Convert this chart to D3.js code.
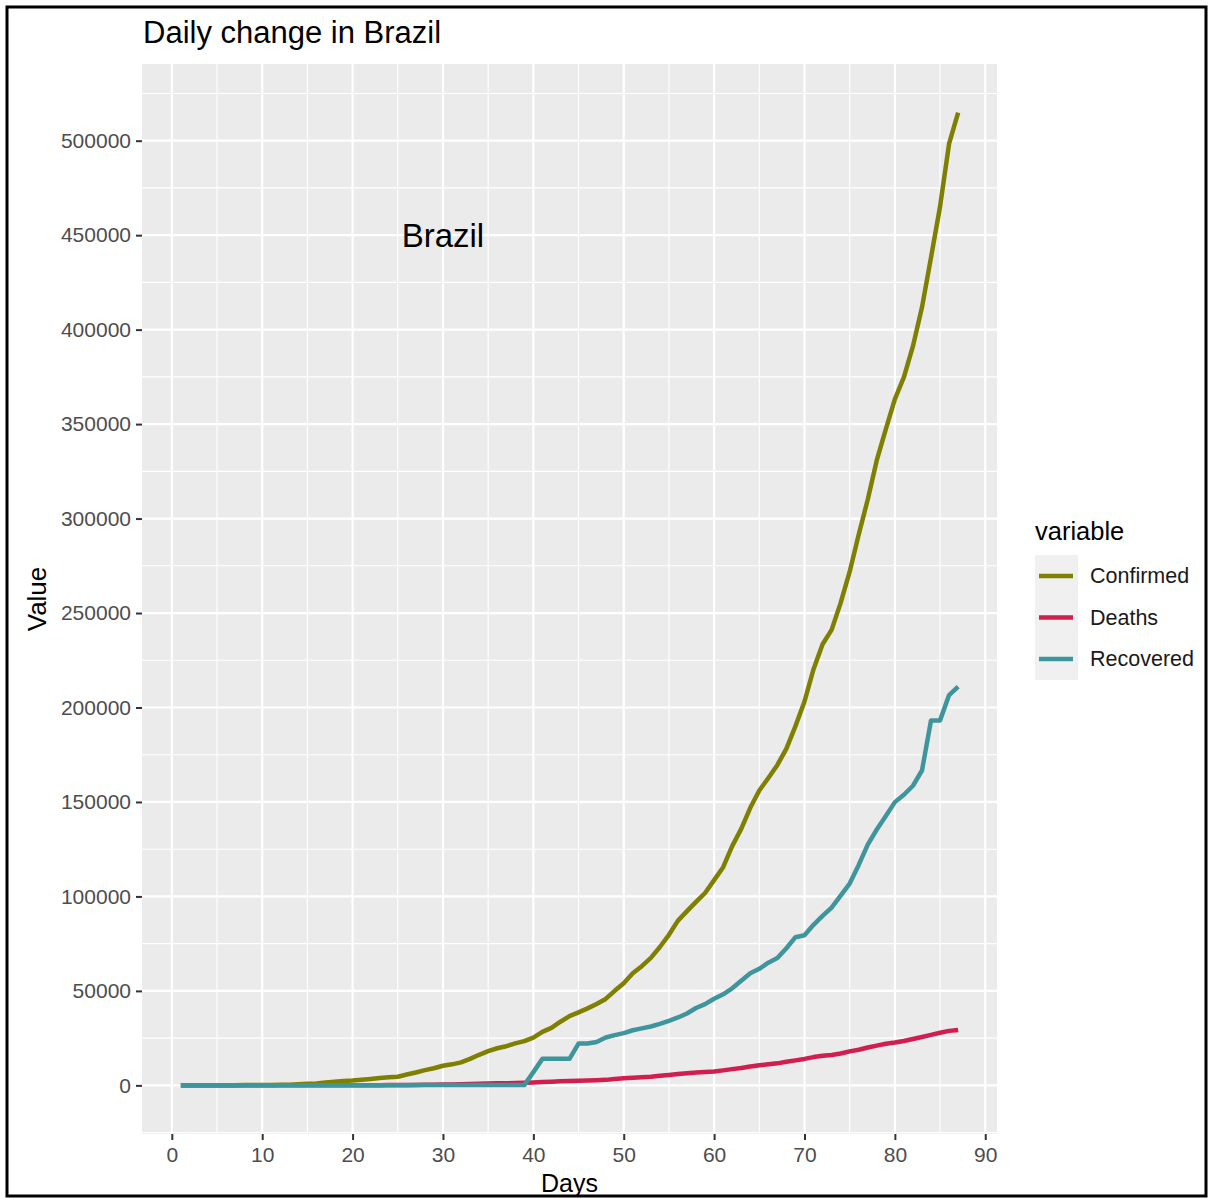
<!DOCTYPE html>
<html>
<head>
<meta charset="utf-8">
<script src="https://cdn.jsdelivr.net/npm/d3@7"></script>
<style>
  html, body { margin: 0; padding: 0; background: #ffffff; }
  svg { display: block; }
  text { font-family: "Liberation Sans", Arial, Helvetica, sans-serif; }
</style>
</head>
<body>
<svg id="chart" width="1208" height="1198"></svg>
<script>
// ---- data ----
const days = d3.range(1, 88);
const seriesNames = ["Confirmed", "Deaths", "Recovered"];
const seriesColors = ["#7f7f00", "#d01f4e", "#3f959c"];

const confirmed = [
  13, 13, 20, 25, 31, 38, 52, 151, 151, 162,
  200, 321, 372, 621, 793, 1021, 1546, 1924, 2247, 2554,
  2985, 3417, 3904, 4256, 4579, 5717, 6836, 8044, 9056, 10360,
  11130, 12161, 14034, 16170, 18092, 19638, 20727, 22192, 23430, 25262,
  28320, 30425, 33682, 36658, 38654, 40743, 43079, 45757, 50036, 54043,
  59324, 63100, 67446, 73235, 79685, 87187, 92202, 97100, 101826, 108620,
  115455, 126611, 135773, 146894, 156061, 162699, 169594, 178214, 190137, 203165,
  220291, 233511, 241080, 255368, 271885, 291579, 310087, 330890, 347398, 363211,
  374898, 391222, 411821, 438238, 465166, 498440, 514849
];
const deaths = [
  0, 0, 0, 0, 0, 0, 0, 0, 0, 0,
  0, 1, 3, 6, 11, 15, 25, 34, 46, 59,
  77, 92, 111, 136, 159, 201, 240, 324, 359, 445,
  486, 564, 686, 819, 950, 1057, 1124, 1223, 1328, 1532,
  1736, 1924, 2141, 2354, 2462, 2587, 2741, 2906, 3331, 3704,
  4045, 4286, 4603, 5083, 5513, 6006, 6412, 6761, 7051, 7367,
  7938, 8588, 9190, 10017, 10656, 11123, 11653, 12461, 13240, 13999,
  14962, 15662, 16118, 16853, 17983, 18859, 20047, 21048, 22013, 22666,
  23473, 24512, 25598, 26754, 27878, 28834, 29314
];
const recovered = [
  0, 0, 0, 0, 0, 0, 0, 0, 0, 0,
  0, 0, 0, 0, 2, 2, 2, 2, 2, 2,
  2, 2, 2, 6, 6, 6, 127, 127, 127, 127,
  127, 127, 127, 127, 127, 127, 127, 127, 127, 7000,
  14026, 14026, 14026, 14026, 22130, 22130, 22991, 25318, 26573, 27655,
  29160, 30152, 31142, 32544, 34132, 35935, 38039, 40937, 42991, 45815,
  48221, 51370, 55350, 59297, 61685, 64957, 67384, 72597, 78424, 79479,
  84970, 89672, 94122, 100459, 106794, 116683, 127417, 135430, 142587, 149911,
  153833, 158593, 166647, 193181, 193181, 206555, 211080
];
const xTicks = [0, 10, 20, 30, 40, 50, 60, 70, 80, 90];
const yTicks = [0, 50000, 100000, 150000, 200000, 250000, 300000, 350000, 400000, 450000, 500000];
const xMinor = [5, 15, 25, 35, 45, 55, 65, 75, 85];
const yMinor = [-25000, 25000, 75000, 125000, 175000, 225000, 275000, 325000, 375000, 425000, 475000, 525000];

const seriesValues = [confirmed, deaths, recovered];

// ---- layout ----
const svg = d3.select("#chart");
const P = { left: 142, right: 997, top: 64, bottom: 1134 };

svg.append("rect").attr("x", 0).attr("y", 0).attr("width", 1208).attr("height", 1198).attr("fill", "#ffffff");

// ggplot-like 5% expansion
const xMinD = d3.min(days), xMaxD = d3.max(days);
const xPad = (xMaxD - xMinD) * 0.05;
const allVals = confirmed.concat(deaths, recovered);
const yMinD = d3.min(allVals), yMaxD = d3.max(allVals);
const yPad = (yMaxD - yMinD) * 0.05;

const x = d3.scaleLinear().domain([xMinD - xPad, xMaxD + xPad]).range([P.left, P.right]);
const y = d3.scaleLinear().domain([yMinD - yPad, yMaxD + yPad]).range([P.bottom, P.top]);

// panel
svg.append("rect")
  .attr("x", P.left).attr("y", P.top)
  .attr("width", P.right - P.left).attr("height", P.bottom - P.top)
  .attr("fill", "#ebebeb");

const grid = svg.append("g");
grid.selectAll(".ymin").data(yMinor.filter(v => y(v) >= P.top && y(v) <= P.bottom)).enter().append("line")
  .attr("x1", P.left).attr("x2", P.right).attr("y1", d => y(d)).attr("y2", d => y(d))
  .attr("stroke", "#ffffff").attr("stroke-width", 1.1);
grid.selectAll(".xmin").data(xMinor).enter().append("line")
  .attr("y1", P.top).attr("y2", P.bottom).attr("x1", d => x(d)).attr("x2", d => x(d))
  .attr("stroke", "#ffffff").attr("stroke-width", 1.1);
grid.selectAll(".ymaj").data(yTicks).enter().append("line")
  .attr("x1", P.left).attr("x2", P.right).attr("y1", d => y(d)).attr("y2", d => y(d))
  .attr("stroke", "#ffffff").attr("stroke-width", 2.2);
grid.selectAll(".xmaj").data(xTicks).enter().append("line")
  .attr("y1", P.top).attr("y2", P.bottom).attr("x1", d => x(d)).attr("x2", d => x(d))
  .attr("stroke", "#ffffff").attr("stroke-width", 2.2);

// axes
const xAxis = d3.axisBottom(x).tickValues(xTicks).tickSize(6).tickPadding(5).tickFormat(d3.format("d"));
const yAxis = d3.axisLeft(y).tickValues(yTicks).tickSize(6).tickPadding(5).tickFormat(d3.format("d"));

const gx = svg.append("g").attr("transform", `translate(0,${P.bottom})`).call(xAxis);
const gy = svg.append("g").attr("transform", `translate(${P.left},0)`).call(yAxis);
[gx, gy].forEach(g => {
  g.select(".domain").remove();
  g.selectAll(".tick line").attr("stroke", "#333333").attr("stroke-width", 2);
  g.selectAll(".tick text").attr("fill", "#4d4d4d").style("font-size", "21px");
});
gx.selectAll(".tick text").attr("dy", "0.8em");

// lines
const line = d3.line().x((d, i) => x(days[i])).y(d => y(d));
[0, 1, 2].forEach(k => {
  svg.append("path")
    .datum(seriesValues[k])
    .attr("d", line)
    .attr("fill", "none")
    .attr("stroke", seriesColors[k])
    .attr("stroke-width", 4.5)
    .attr("stroke-linejoin", "round")
    .attr("stroke-linecap", "butt");
});

// annotation
svg.append("text")
  .attr("x", x(30)).attr("y", y(450000))
  .attr("text-anchor", "middle").attr("dominant-baseline", "central")
  .attr("fill", "#000000").style("font-size", "33px")
  .text("Brazil");

// title
svg.append("text").attr("x", 143).attr("y", 43)
  .attr("fill", "#000000").style("font-size", "31px")
  .text("Daily change in Brazil");

// axis titles
svg.append("text").attr("x", (P.left + P.right) / 2).attr("y", 1192)
  .attr("text-anchor", "middle").attr("fill", "#000000").style("font-size", "25px")
  .text("Days");
svg.append("text")
  .attr("transform", `translate(46,${(P.top + P.bottom) / 2}) rotate(-90)`)
  .attr("text-anchor", "middle").attr("fill", "#000000").style("font-size", "26px")
  .text("Value");

// legend
const lg = svg.append("g");
lg.append("text").attr("x", 1035).attr("y", 540)
  .attr("fill", "#000000").style("font-size", "25.5px").text("variable");
lg.append("rect").attr("x", 1035).attr("y", 555).attr("width", 43).attr("height", 125)
  .attr("fill", "#f0f0f0");
seriesNames.forEach((name, i) => {
  const cy = 576 + i * 41.5;
  lg.append("line").attr("x1", 1039).attr("x2", 1073).attr("y1", cy).attr("y2", cy)
    .attr("stroke", seriesColors[i]).attr("stroke-width", 4.5);
  lg.append("text").attr("x", 1090).attr("y", cy).attr("dominant-baseline", "central")
    .attr("fill", "#1a1a1a").style("font-size", "21.5px").text(name);
});

// outer frame
svg.append("rect").attr("x", 7).attr("y", 7).attr("width", 1199).attr("height", 1189)
  .attr("fill", "none").attr("stroke", "#000000").attr("stroke-width", 3);
</script>
</body>
</html>
